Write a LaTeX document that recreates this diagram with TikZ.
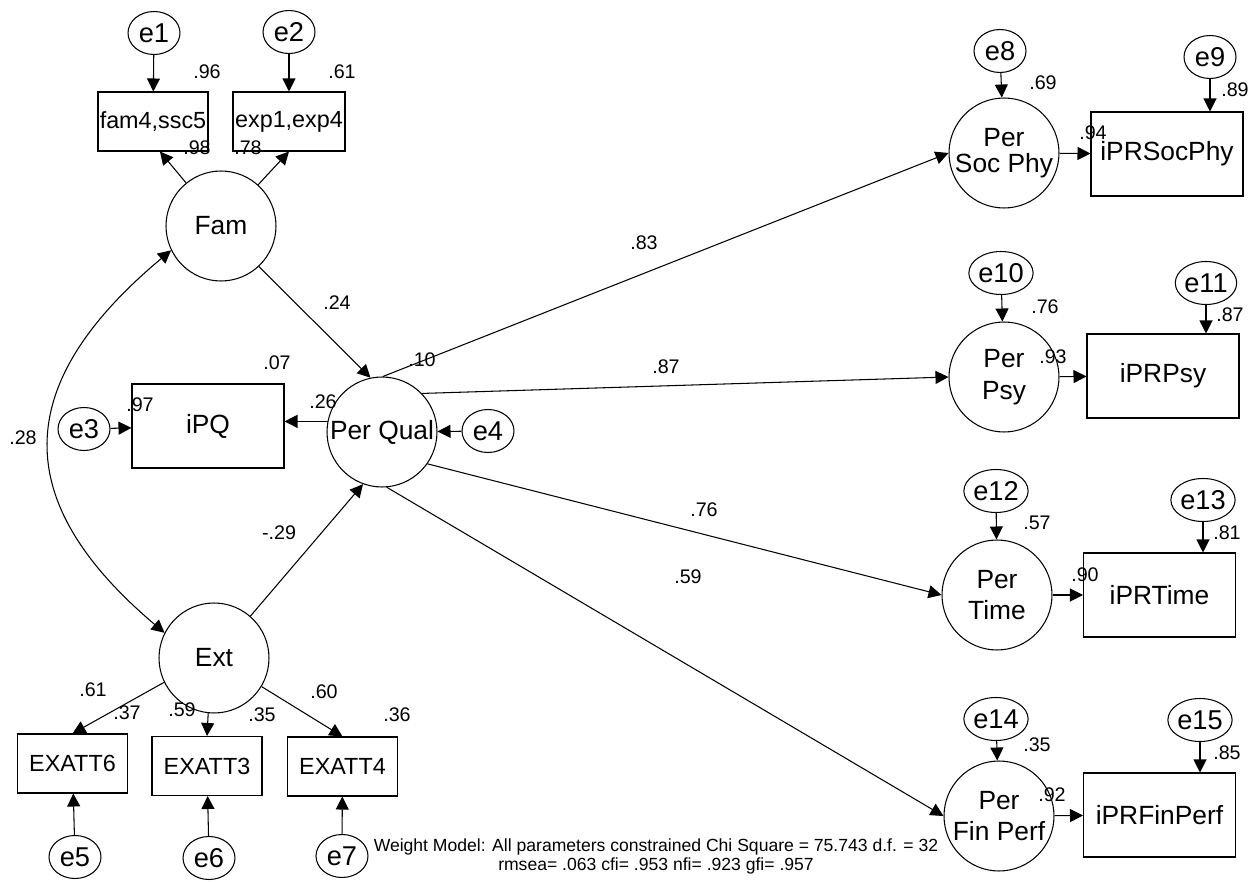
\documentclass[tikz,border=0pt]{standalone}
\usepackage{fontspec}
\setmainfont{Liberation Sans}
\usetikzlibrary{shapes.geometric, arrows.meta, positioning, calc}

\begin{document}
\begin{tikzpicture}[x=0.02cm, y=0.02cm, line width=0.6pt, >={Triangle[length=2.6mm, width=2.6mm]}]
        \tikzset{
            latent/.style={draw, circle, minimum size=2.2cm, inner sep=0pt, align=center, font=\fontsize{15}{18}\selectfont},
            errvar/.style={draw, ellipse, minimum width=1.04cm, minimum height=0.86cm, inner sep=0pt, font=\fontsize{15.5}{17}\selectfont},
            obsbig/.style={draw, minimum width=3.04cm, minimum height=1.68cm, inner sep=0pt, font=\fontsize{15}{17}\selectfont},
            obssmall/.style={draw, minimum width=2.2cm, minimum height=1.18cm, inner sep=0pt, font=\fontsize{13.3}{15}\selectfont},
            coef/.style={inner sep=0pt, font=\fontsize{11.2}{13}\selectfont}
        }
        \useasboundingbox (0,0) rectangle (1259,-882);

        % --- LATENT FACTORS ---
        \node[latent] (fam) at (221,-226) {Fam};
        \node[latent] (ext) at (214,-658) {Ext};
        \node[latent] (pq) at (382,-432) {Per Qual};
        \node[latent, font=\fontsize{15}{15}\selectfont] (psoc) at (1004,-153) {Per\\Soc Phy};
        \node[latent] (ppsy) at (1004,-377) {Per\\Psy};
        \node[latent] (ptime) at (997,-595) {Per\\Time};
        \node[latent] (pfin) at (999,-816) {Per\\Fin Perf};

        % --- INDICATORS ---
        \node[obssmall] (b1) at (153,-121.5) {fam4,ssc5};
        \node[obssmall, minimum width=2.24cm] (b2) at (289,-121.5) {exp1,exp4};
        \node[obsbig] (ipq) at (208,-426) {iPQ};
        \node[obssmall] (ex6) at (72.5,-763.5) {EXATT6};
        \node[obssmall] (ex3) at (207,-766) {EXATT3};
        \node[obssmall] (ex4) at (342.5,-766.5) {EXATT4};
        \node[obsbig] (isoc) at (1167,-154) {iPRSocPhy};
        \node[obsbig] (ipsy) at (1163,-376) {iPRPsy};
        \node[obsbig] (itime) at (1159.5,-595) {iPRTime};
        \node[obsbig] (ifin) at (1159.5,-815) {iPRFinPerf};

        % --- ERROR TERMS ---
        \node[errvar] (e1) at (154,-33) {e1};
        \node[errvar] (e2) at (289,-32) {e2};
        \node[errvar] (e3) at (84,-429) {e3};
        \node[errvar] (e4) at (488,-431) {e4};
        \node[errvar] (e5) at (75,-857) {e5};
        \node[errvar] (e6) at (209,-858) {e6};
        \node[errvar] (e7) at (342,-856) {e7};
        \node[errvar] (e8) at (1000,-51) {e8};
        \node[errvar] (e9) at (1210,-57) {e9};
        \node[errvar] (e10) at (1001,-273) {e10};
        \node[errvar] (e11) at (1206,-283) {e11};
        \node[errvar] (e12) at (996,-491) {e12};
        \node[errvar] (e13) at (1203,-500) {e13};
        \node[errvar] (e14) at (996,-719) {e14};
        \node[errvar] (e15) at (1200,-720) {e15};

        % --- COEFFICIENTS ---
        \foreach \x/\y/\v [count=\i] in {207/72/.96, 342/72/.61, 197/148/.98, 248/148/.78,
            337/303/.24, 422/360/.10, 277/363/.07, 140/405/.97, 323/402/.26, 23/438/.28,
            279/533/-.29, 93/690/.61, 127/713/.37, 182/710/.59, 262/715/.35, 324/692/.60,
            397/715/.36, 644/243/.83, 666/367/.87, 704/510/.76, 688/577/.59,
            1043/83/.69, 1093/133/.94, 1235/90/.89, 1045/307/.76, 1053/357/.93, 1230/315/.87,
            1037/523/.57, 1085/575/.90, 1227/533/.81, 1037/745/.35, 1052/795/.92, 1227/753/.85}
            \node[coef] (c\i) at (\x,-\y) {\v};

        % Fit note
        \node[align=center, font=\fontsize{10}{10.8}\selectfont] (fitnote) at (656,-856)
            {Weight Model: All parameters constrained Chi Square = 75.743 d.f. = 32\\rmsea= .063 cfi= .953 nfi= .923 gfi= .957};

        % Measurement arrows, left
        \draw[->] (e1) -- (b1);
        \draw[->] (e2) -- (b2);
        \draw[->] (fam.129) -- (b1.-77);
        \draw[->] (fam.48) -- (b2.south);
        \draw[->] (e3) -- (ipq);
        \draw[->] (pq.169) -- (pq.169 -| ipq.east);
        \draw[->] (e4) -- (pq);
        \draw[->] (ext.206) -- (ex6.north);
        \draw[->] (ext.-96) -- (ex3.north);
        \draw[->] (ext.-31) -- (ex4.north);
        \draw[->] (e5) -- (ex6);
        \draw[->] (e6) -- (ex3);
        \draw[->] (e7) -- (ex4);

        % Structural paths
        \draw[<->] (fam.206) .. controls (10,-385) and (10,-502) .. (ext.153);
        \draw[->] (fam.-47) -- (pq.102);
        \draw[->] (ext.49) -- (pq.-110);
        \draw[->] (pq.89) -- (psoc.west);
        \draw[->] (pq.44) -- (ppsy.west);
        \draw[->] (pq.-35) -- (ptime.west);
        \draw[->] (pq.-85) -- (pfin.west);

        % Measurement arrows, right
        \draw[->] (psoc) -- (isoc);
        \draw[->] (ppsy) -- (ipsy);
        \draw[->] (ptime) -- (itime);
        \draw[->] (pfin) -- (ifin);
        \draw[->] (e8) -- (psoc);
        \draw[->] (e10) -- (ppsy);
        \draw[->] (e12) -- (ptime);
        \draw[->] (e14) -- (pfin);
        \draw[->] (e9) -- (e9 |- isoc.north);
        \draw[->] (e11) -- (e11 |- ipsy.north);
        \draw[->] (e13) -- (e13 |- itime.north);
        \draw[->] (e15) -- (e15 |- ifin.north);

    \end{tikzpicture}
\end{document}
